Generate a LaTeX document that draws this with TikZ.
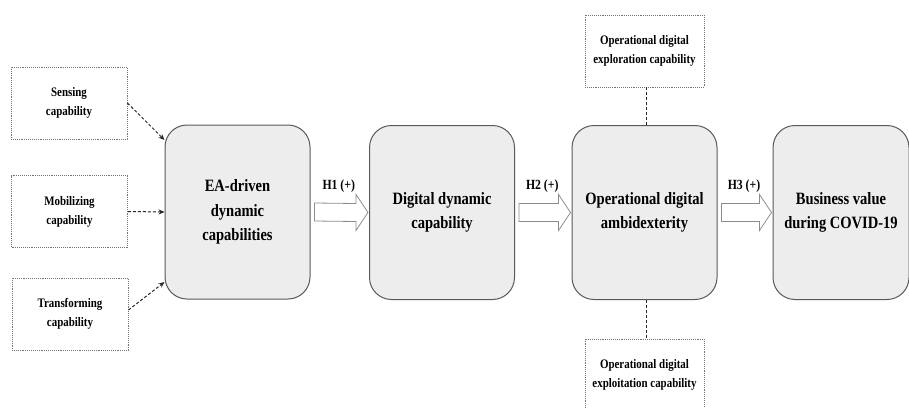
\documentclass[tikz,border=0pt]{standalone}
\usepackage{fontspec}
\setmainfont{Liberation Serif}
\newfontfamily\condfont[FakeStretch=0.84]{Liberation Serif}
\usetikzlibrary{calc,arrows.meta}
\tikzset{
  bigbox/.style={draw=black!65, line width=1pt, fill=black!7, rounded corners=22pt,
    minimum width=145pt, minimum height=174pt, align=center, inner sep=2pt,
    font=\condfont\fontsize{17.3}{24.5}\selectfont\bfseries},
  smallbox/.style={draw=black!55, densely dotted, line width=0.9pt, fill=white,
    minimum width=116pt, minimum height=72pt, align=center, inner sep=2pt,
    font=\condfont\fontsize{13}{19}\selectfont\bfseries},
  dasharrow/.style={densely dashed, line width=1pt, black!85, -{Stealth[length=6pt,width=5pt]}},
  dashlink/.style={densely dashed, line width=1pt, black!85},
  blockarrow/.style={draw=black!45, line width=0.8pt, fill=white, line join=miter},
  hlabel/.style={font=\condfont\fontsize{14}{14}\selectfont\bfseries, inner sep=0pt}
}
\newcommand{\blkarrow}[3]{%
  \draw[blockarrow] ($(#1.east)+(4,-9)$) -- ($(#2.west)+(-13,-9)$) -- ($(#2.west)+(-13,-18)$)
    -- ($(#2.west)+(-1,0)$) -- ($(#2.west)+(-13,18)$) -- ($(#2.west)+(-13,9)$)
    -- ($(#1.east)+(4,9)$) -- cycle;
  \node[hlabel] (#3) at ($(#1.east)!0.5!(#2.west)+(-1,-26)$) {\MakeUppercase{#3} (+)};
}
\begin{document}
\begin{tikzpicture}[x=1pt,y=-1pt]
\useasboundingbox (0,0) rectangle (909,407);
% main boxes
\node[bigbox] (ea) at (237.5,212) {EA-driven\\dynamic\\capabilities};
\node[bigbox] (ddc) at (442,212.5) {Digital dynamic\\capability};
\node[bigbox] (oda) at (644.5,212.5) {Operational digital\\ambidexterity};
\node[bigbox, minimum width=136pt] (bv) at (841,212.5) {Business value\\during COVID-19};
% left boxes
\node[smallbox] (sen) at (69,103) {Sensing\\capability};
\node[smallbox] (mob) at (69.5,211.5) {Mobilizing\\capability};
\node[smallbox] (tra) at (70,314) {Transforming\\capability};
% top / bottom boxes
\node[smallbox, minimum width=119pt] (explo) at (644.5,51) {Operational digital\\exploration capability};
\node[smallbox, minimum width=119pt] (exploit) at (644.5,375) {Operational digital\\exploitation capability};
% dashed arrows
\draw[dasharrow] (sen.east) -- ($(ea.west)+(0,-72)$);
\draw[dasharrow] (mob.east) -- (ea.west);
\draw[dasharrow] ($(tra.east)+(0,-4)$) -- ($(ea.west)+(0,70)$);
% dashed links
\draw[dashlink] ($(explo.south)+(1.5,0)$) -- ($(oda.north)+(1.5,0)$);
\draw[dashlink] ($(oda.south)+(1.5,0)$) -- ($(exploit.north)+(1.5,0)$);
% block arrows
\blkarrow{ea}{ddc}{h1}
\blkarrow{ddc}{oda}{h2}
\blkarrow{oda}{bv}{h3}
\end{tikzpicture}
\end{document}
